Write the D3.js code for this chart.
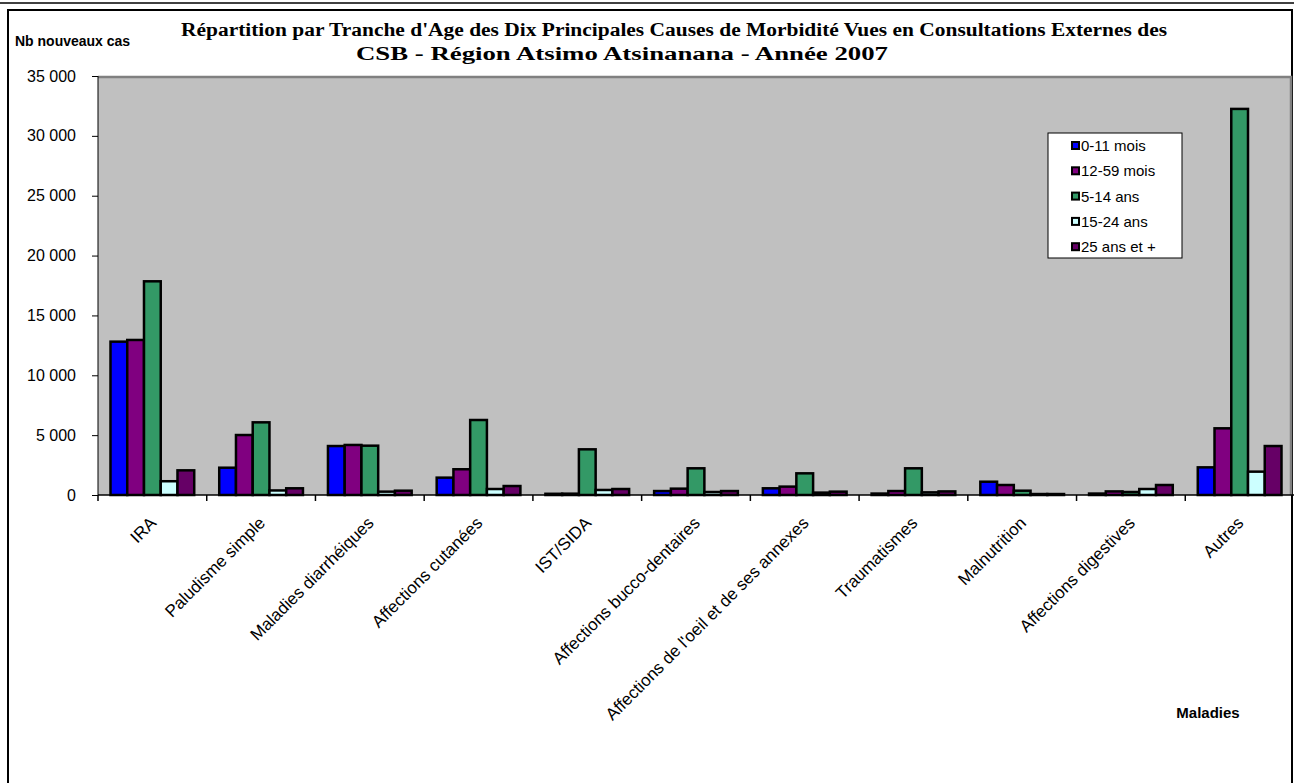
<!DOCTYPE html>
<html>
<head>
<meta charset="utf-8">
<script src="https://cdn.jsdelivr.net/npm/d3@7"></script>
<style>
  body { margin: 0; background: #fff; }
  svg { display: block; font-family: Arial, "Liberation Sans", sans-serif; }
</style>
</head>
<body>
<div id="chart"></div>
<script>
(function(){
  'use strict';

  var categories = ["IRA", "Paludisme simple", "Maladies diarrhéiques", "Affections cutanées",
    "IST/SIDA", "Affections bucco-dentaires", "Affections de l'oeil et de ses annexes",
    "Traumatismes", "Malnutrition", "Affections digestives", "Autres"];
  var seriesNames = ["0-11 mois", "12-59 mois", "5-14 ans", "15-24 ans", "25 ans et +"];
  var mois0_11  = [12810, 2280, 4090, 1450, 100, 330, 560, 120, 1110, 120, 2310];
  var mois12_59 = [12950, 5010, 4180, 2150, 110, 530, 700, 330, 835, 300, 5570];
  var ans5_14   = [17850, 6070, 4120, 6265, 3815, 2230, 1810, 2230, 360, 250, 32250];
  var ans15_24  = [1150, 380, 280, 500, 420, 250, 200, 220, 80, 500, 1950];
  var ans25plus = [2060, 560, 360, 750, 500, 330, 280, 300, 80, 835, 4090];
  var yTicks = [0, 5000, 10000, 15000, 20000, 25000, 30000, 35000];
  var colors = ["#0000ff", "#800080", "#339966", "#ccffff", "#660066"];

  var seriesVals = [mois0_11, mois12_59, ans5_14, ans15_24, ans25plus];

  var W = 1294, H = 783,
      left = 98, right = 1294, top = 76, bottom = 495;

  var svg = d3.select('#chart').append('svg')
    .attr('width', W)
    .attr('height', H);

  // frames
  svg.append('line')
    .attr('x1', 0).attr('x2', W).attr('y1', 3).attr('y2', 3)
    .style('stroke', '#000').style('stroke-width', 1.5);
  svg.append('rect')
    .attr('x', 8).attr('y', 10).attr('width', 1284).attr('height', 790)
    .style('fill', '#fff').style('stroke', '#000').style('stroke-width', 2);

  var x = d3.scaleBand()
    .domain(categories)
    .range([left, right])
    .paddingInner(0.23)
    .paddingOuter(0.115);

  var xs = d3.scaleBand()
    .domain(seriesNames)
    .range([0, x.bandwidth()]);

  var y = d3.scaleLinear()
    .domain([0, 35000])
    .range([bottom, top]);

  // plot area
  svg.append('rect')
    .attr('x', left).attr('y', top)
    .attr('width', 1292 - left).attr('height', bottom - top)
    .style('fill', '#c0c0c0');
  svg.append('path')
    .attr('d', 'M' + left + ',' + (top + 1) + 'H1291V' + bottom)
    .style('fill', 'none').style('stroke', '#808080').style('stroke-width', 2.5);

  // bars
  var groups = svg.selectAll('.serie')
    .data(seriesNames)
    .enter()
    .append('g')
    .attr('class', 'serie');

  groups.selectAll('rect')
    .data(function(d, i) {
      return seriesVals[i].map(function(v, j) { return {s: d, c: categories[j], v: v, col: colors[i]}; });
    })
    .enter()
    .append('rect')
    .attr('x', function(d) { return x(d.c) + xs(d.s); })
    .attr('y', function(d) { return y(d.v); })
    .attr('width', xs.bandwidth())
    .attr('height', function(d) { return bottom - y(d.v); })
    .style('fill', function(d) { return d.col; })
    .style('stroke', '#000')
    .style('stroke-width', 2.5);

  // axes
  var fmt = function(d) { return d3.format(',')(d).replace(/,/g, ' '); };
  var yAxis = d3.axisLeft(y)
    .tickValues(yTicks)
    .tickFormat(fmt)
    .tickSize(6)
    .tickPadding(16);

  var gy = svg.append('g')
    .attr('transform', 'translate(' + left + ',0)')
    .call(yAxis);
  gy.select('.domain').attr('d', 'M0,' + top + 'V' + bottom);
  gy.selectAll('text')
    .style('font-size', '16px')
    .style('fill', '#000')
    .style('font-family', 'Arial, "Liberation Sans", sans-serif');

  var step = x.step();
  var gx = svg.append('g')
    .attr('transform', 'translate(0,' + bottom + ')');
  gx.append('line')
    .attr('x1', left).attr('x2', right)
    .style('stroke', '#000').style('stroke-width', 1.5);
  gx.selectAll('.xtick')
    .data(categories)
    .enter()
    .append('line')
    .attr('class', 'xtick')
    .attr('x1', function(d) { return x(d) - (step - x.bandwidth()) / 2; })
    .attr('x2', function(d) { return x(d) - (step - x.bandwidth()) / 2; })
    .attr('y1', 0).attr('y2', 6)
    .style('stroke', '#000').style('stroke-width', 1.5);

  svg.selectAll('.xlab')
    .data(categories)
    .enter()
    .append('text')
    .attr('class', 'xlab')
    .attr('transform', function(d) {
      return 'translate(' + (x(d) + x.bandwidth() / 2 + 5) + ',524) rotate(-45)';
    })
    .attr('text-anchor', 'end')
    .style('font-size', '17px')
    .text(function(d) { return d; });

  // titles
  svg.append('text')
    .attr('x', 181).attr('y', 36)
    .attr('textLength', 986)
    .attr('lengthAdjust', 'spacingAndGlyphs')
    .style('font-family', '"Liberation Serif", "Times New Roman", serif')
    .style('font-weight', 'bold')
    .style('font-size', '18px')
    .text("Répartition par Tranche d'Age des Dix Principales Causes de Morbidité Vues en Consultations Externes des");
  svg.append('text')
    .attr('x', 356).attr('y', 60)
    .attr('textLength', 532)
    .attr('lengthAdjust', 'spacingAndGlyphs')
    .style('font-family', '"Liberation Serif", "Times New Roman", serif')
    .style('font-weight', 'bold')
    .style('font-size', '18px')
    .text("CSB - Région Atsimo Atsinanana - Année 2007");

  svg.append('text')
    .attr('x', 15).attr('y', 46)
    .style('font-weight', 'bold')
    .style('font-size', '14px')
    .text('Nb nouveaux cas');

  svg.append('text')
    .attr('x', 1208).attr('y', 718)
    .attr('text-anchor', 'middle')
    .style('font-weight', 'bold')
    .style('font-size', '15px')
    .text('Maladies');

  // legend
  var lg = svg.append('g');
  lg.append('rect')
    .attr('x', 1048).attr('y', 133).attr('width', 134).attr('height', 125)
    .style('fill', '#fff').style('stroke', '#000').style('stroke-width', 1);
  var items = lg.selectAll('.li')
    .data(seriesNames)
    .enter()
    .append('g')
    .attr('transform', function(d, i) { return 'translate(1072,' + (146 + i * 25.3) + ')'; });
  items.append('rect')
    .attr('x', 0).attr('y', -4).attr('width', 7).attr('height', 7)
    .style('fill', function(d, i) { return colors[i]; })
    .style('stroke', '#000').style('stroke-width', 2);
  items.append('text')
    .attr('x', 9).attr('y', 5)
    .style('font-size', '15px')
    .text(function(d) { return d; });

}());
</script>
</body>
</html>
